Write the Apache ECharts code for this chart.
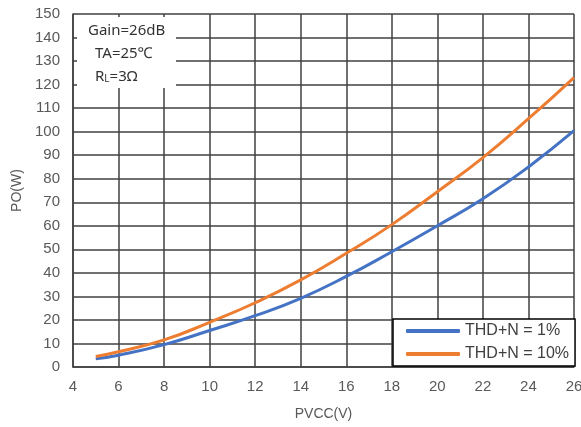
<!DOCTYPE html>
<html><head><meta charset="utf-8">
<script src="https://cdn.jsdelivr.net/npm/echarts@6/dist/echarts.min.js"></script>
<style>html,body{margin:0;padding:0;background:#fff}#c{width:581px;height:427px}</style>
</head><body><div id="c"></div>
<script>
var xVals = [5, 6, 8, 10, 12, 14, 16, 18, 20, 22, 24, 26];
var thd1 = [3.5, 5.0, 9.5, 15.5, 21.8, 29.2, 38.5, 49.0, 60.0, 71.5, 85.0, 100.4];
var thd10 = [4.5, 6.5, 11.5, 19.0, 27.3, 37.0, 48.3, 60.5, 74.5, 89.0, 105.5, 123.0];
var seriesNames = ['THD+N = 1%', 'THD+N = 10%'];
var notes = ['Gain=26dB', 'TA=25\u2103'];

function pairs(v) { return xVals.map(function (x, i) { return [x, v[i]]; }); }

var chart = echarts.init(document.getElementById('c'), null, {renderer: 'canvas'});
var gridLine = {show: true, lineStyle: {color: '#404040', width: 1.5}};
chart.setOption({
  animation: false,
  backgroundColor: '#fff',
  grid: {left: 73, right: 7, top: 14, bottom: 60, containLabel: false, outerBoundsMode: 'none'},
  xAxis: {
    type: 'value', min: 4, max: 26, interval: 2,
    name: 'PVCC(V)', nameLocation: 'middle', nameGap: 40,
    nameTextStyle: {color: '#595959', fontSize: 14, fontFamily: 'Liberation Sans'},
    axisLine: {show: true, lineStyle: {color: '#404040', width: 1.5}},
    axisTick: {show: false},
    axisLabel: {color: '#595959', fontSize: 15, margin: 12, fontFamily: 'Liberation Sans'},
    splitLine: gridLine
  },
  yAxis: {
    type: 'value', min: 0, max: 150, interval: 10,
    name: 'PO(W)', nameLocation: 'middle', nameGap: 47, nameRotate: 90,
    nameTextStyle: {color: '#595959', fontSize: 14, fontFamily: 'Liberation Sans'},
    axisLine: {show: true, lineStyle: {color: '#404040', width: 1.5}},
    axisTick: {show: false},
    axisLabel: {color: '#595959', fontSize: 15, margin: 13, fontFamily: 'Liberation Sans'},
    splitLine: gridLine
  },
  legend: {
    orient: 'vertical', left: 393, top: 319,
    data: seriesNames,
    icon: 'roundRect', itemWidth: 54, itemHeight: 4, itemGap: 7,
    padding: [4, 6, 4, 13],
    backgroundColor: '#fff', borderColor: '#000', borderWidth: 1.5,
    textStyle: {color: '#404040', fontSize: 16, fontFamily: 'Liberation Sans'}
  },
  graphic: [
    {type: 'rect', z: 10, shape: {x: 77, y: 17, width: 99, height: 71}, style: {fill: '#fff'}},
    {type: 'text', z: 11, left: 88, top: 23, style: {text: notes[0], fill: '#333', font: '15px "Noto Sans"'}},
    {type: 'text', z: 11, left: 95, top: 46, style: {text: notes[1], fill: '#333', font: '15px "Noto Sans"'}},
    {type: 'text', z: 11, left: 95, top: 69, style: {
      text: '{a|R}{b|L}{a|=3\u03a9}',
      rich: {a: {fill: '#333', fontSize: 15, fontFamily: 'Noto Sans'}, b: {fill: '#333', fontSize: 10, fontFamily: 'Noto Sans', padding: [5, 0, 0, 0]}}
    }}
  ],
  series: [
    {name: seriesNames[0], type: 'line', smooth: true, showSymbol: false, data: pairs(thd1),
     lineStyle: {color: '#4472C4', width: 3}, itemStyle: {color: '#4472C4'}},
    {name: seriesNames[1], type: 'line', smooth: true, showSymbol: false, data: pairs(thd10),
     lineStyle: {color: '#ED7D31', width: 3}, itemStyle: {color: '#ED7D31'}}
  ]
});
</script></body></html>
